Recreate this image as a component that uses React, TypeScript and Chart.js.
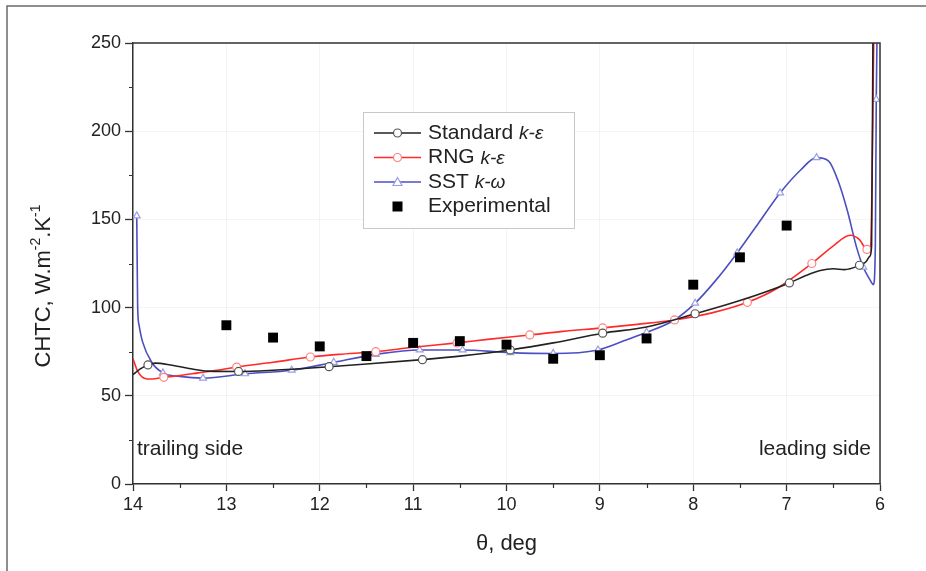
import React, { useEffect, useRef } from 'react';
import { Chart, registerables } from 'chart.js';

Chart.register(...registerables);

// ---- data ----
const standardTheta = [14, 13.93, 13.84, 13.76, 13.6, 13.4, 13.2, 12.87, 12.5, 11.9, 11.5, 10.9, 10.5, 9.96, 9.5, 8.97, 8.5, 7.98, 7.5, 6.97, 6.8, 6.64, 6.5, 6.38, 6.22, 6.15, 6.11, 6.09, 6.075];
const standardValues = [62, 65, 67.5, 68.5, 67.5, 65.5, 64, 63.8, 64.5, 66.5, 68, 70.5, 72.5, 76, 80, 85.5, 89, 96.5, 104, 114, 118, 121, 122, 121.5, 124, 126, 129, 135, 260];
const standardMarkers = [13.84, 12.87, 11.9, 10.9, 9.96, 8.97, 7.98, 6.97, 6.22];

const rngTheta = [14, 13.95, 13.88, 13.8, 13.67, 13.5, 13.3, 13.1, 12.89, 12.5, 12.1, 11.8, 11.4, 11, 10.53, 10.2, 9.75, 9.4, 8.97, 8.6, 8.2, 7.8, 7.42, 7.1, 6.73, 6.5, 6.32, 6.22, 6.14, 6.1, 6.065];
const rngValues = [71, 64, 60, 59.5, 60.5, 61.5, 63, 64.5, 66.3, 69, 72, 73.5, 75, 77.5, 80, 82, 84.5, 86.5, 88.5, 90.5, 93, 97, 103, 111, 125, 135, 141, 138.5, 133, 135, 260];
const rngMarkers = [13.67, 12.89, 12.1, 11.4, 10.53, 9.75, 8.97, 8.2, 7.42, 6.73, 6.14];

const sstTheta = [13.96, 13.955, 13.95, 13.935, 13.9, 13.8, 13.68, 13.5, 13.25, 12.8, 12.3, 11.85, 11.4, 10.93, 10.47, 9.96, 9.5, 9.02, 8.75, 8.5, 8.2, 7.98, 7.75, 7.53, 7.3, 7.07, 6.85, 6.68, 6.55, 6.45, 6.35, 6.25, 6.18, 6.11, 6.07, 6.05, 6.04, 6.03];
const sstValues = [152, 125, 100, 90, 81, 69, 63, 61, 60, 62.5, 64.5, 69, 73.5, 76, 76, 74.5, 74, 76, 81, 86, 93, 102.5, 116, 131, 148, 165, 178, 185, 183, 172, 155, 134, 123, 116, 113, 135, 218, 260];
const sstMarkers = [13.96, 13.68, 13.25, 12.8, 12.3, 11.85, 11.4, 10.93, 10.47, 9.96, 9.5, 9.02, 8.5, 7.98, 7.53, 7.07, 6.68, 6.18, 6.04];

const expTheta = [13, 12.5, 12, 11.5, 11, 10.5, 10, 9.5, 9, 8.5, 8, 7.5, 7];
const expValues = [90, 83, 78, 72.5, 80, 81, 79, 71, 73, 82.5, 113, 128.5, 146.5];

const xTicks = [14, 13, 12, 11, 10, 9, 8, 7, 6];
const yTicks = [0, 50, 100, 150, 200, 250];
const xMinorTicks = [13.5, 12.5, 11.5, 10.5, 9.5, 8.5, 7.5, 6.5];
const yMinorTicks = [25, 75, 125, 175, 225];

const FONT = '"Liberation Sans", Arial, Helvetica, sans-serif';

const BLACK = '#222222';
const RED = '#ff2a2a';
const BLUE = '#4b4fc0';

function pts(t: number[], v: number[]) {
  return t.map((x, i) => ({ x, y: v[i] }));
}
function radii(t: number[], m: number[], r: number) {
  return t.map((x) => (m.includes(x) ? r : 0));
}

const legendItems = [
  { name: 'Standard ', italic: 'k-ε', color: BLACK, marker: 'circle', edge: '#555' },
  { name: 'RNG ', italic: 'k-ε', color: RED, marker: 'circle', edge: '#ff8080' },
  { name: 'SST ', italic: 'k-ω', color: BLUE, marker: 'triangle', edge: '#9aa0e0' },
  { name: 'Experimental', italic: '', color: '#000', marker: 'square', edge: '#000' },
];

const decorPlugin = {
  id: 'decor',
  beforeDraw(chart: any) {
    const ctx = chart.ctx;
    ctx.save();
    ctx.fillStyle = '#fff';
    ctx.fillRect(0, 0, chart.width, chart.height);
    ctx.strokeStyle = '#6a6a6a';
    ctx.lineWidth = 1.5;
    ctx.beginPath();
    ctx.moveTo(7, chart.height);
    ctx.lineTo(7, 6);
    ctx.lineTo(chart.width, 6);
    ctx.stroke();
    ctx.restore();
  },
  afterDraw(chart: any) {
    const ctx = chart.ctx;
    const a = chart.chartArea;
    const xs = chart.scales.x;
    const ys = chart.scales.y;
    ctx.save();
    // frame top / right
    ctx.strokeStyle = '#333';
    ctx.lineWidth = 1.5;
    ctx.beginPath();
    ctx.moveTo(a.left, a.top);
    ctx.lineTo(a.right, a.top);
    ctx.lineTo(a.right, a.bottom);
    ctx.stroke();
    // minor ticks
    ctx.lineWidth = 1.2;
    ctx.beginPath();
    yMinorTicks.forEach((v) => {
      const y = Math.round(ys.getPixelForValue(v)) + 0.5;
      ctx.moveTo(a.left - 4, y);
      ctx.lineTo(a.left, y);
    });
    xMinorTicks.forEach((v) => {
      const x = Math.round(xs.getPixelForValue(v)) + 0.5;
      ctx.moveTo(x, a.bottom);
      ctx.lineTo(x, a.bottom + 4);
    });
    ctx.stroke();

    // side annotations
    ctx.fillStyle = '#222';
    ctx.font = `21px ${FONT}`;
    ctx.textBaseline = 'middle';
    const ay = ys.getPixelForValue(19.5);
    ctx.textAlign = 'left';
    ctx.fillText('trailing side', a.left + 4, ay);
    ctx.textAlign = 'right';
    ctx.fillText('leading side', a.right - 9, ay);

    // y axis title with superscripts
    const main = `22px ${FONT}`;
    const sup = `14px ${FONT}`;
    const parts: [string, string, number][] = [
      ['CHTC, W.m', main, 0],
      ['-2', sup, -8],
      ['.K', main, 0],
      ['-1', sup, -8],
    ];
    let total = 0;
    parts.forEach(([t, f]) => {
      ctx.font = f;
      total += ctx.measureText(t).width;
    });
    ctx.translate(44, 286);
    ctx.rotate(-Math.PI / 2);
    ctx.textAlign = 'left';
    ctx.textBaseline = 'middle';
    let px = -total / 2;
    parts.forEach(([t, f, dy]) => {
      ctx.font = f;
      ctx.fillText(t, px, dy);
      px += ctx.measureText(t).width;
    });
    ctx.setTransform(1, 0, 0, 1, 0, 0);

    // legend
    const lx = a.left + 230;
    const ly = a.top + 69;
    const lw = 211;
    const lh = 116;
    ctx.fillStyle = '#fff';
    ctx.fillRect(lx, ly, lw, lh);
    ctx.strokeStyle = '#c8c8c8';
    ctx.lineWidth = 1;
    ctx.strokeRect(lx + 0.5, ly + 0.5, lw, lh);
    legendItems.forEach((it, i) => {
      const cy = ly + 21 + i * 24.5;
      const x0 = lx + 11;
      const x1 = lx + 58;
      const cx = (x0 + x1) / 2;
      if (it.marker === 'square') {
        ctx.fillStyle = '#000';
        ctx.fillRect(cx - 5, cy - 5, 10, 10);
      } else {
        ctx.strokeStyle = it.color;
        ctx.lineWidth = 1.6;
        ctx.beginPath();
        ctx.moveTo(x0, cy);
        ctx.lineTo(x1, cy);
        ctx.stroke();
        ctx.fillStyle = '#fff';
        ctx.strokeStyle = it.edge;
        ctx.lineWidth = 1.2;
        ctx.beginPath();
        if (it.marker === 'circle') {
          ctx.arc(cx, cy, 4, 0, Math.PI * 2);
        } else {
          ctx.moveTo(cx, cy - 4.5);
          ctx.lineTo(cx + 4.5, cy + 3.5);
          ctx.lineTo(cx - 4.5, cy + 3.5);
          ctx.closePath();
        }
        ctx.fill();
        ctx.stroke();
      }
      ctx.fillStyle = '#222';
      ctx.textAlign = 'left';
      ctx.textBaseline = 'middle';
      ctx.font = `21px ${FONT}`;
      ctx.fillText(it.name, lx + 65, cy);
      if (it.italic) {
        const w = ctx.measureText(it.name).width;
        ctx.font = `italic 19px ${FONT}`;
        ctx.fillText(it.italic, lx + 65 + w, cy + 1);
      }
    });
    ctx.restore();
  },
};

export default function App() {
  const ref = useRef<HTMLCanvasElement | null>(null);
  useEffect(() => {
    if (!ref.current) return;
    const lineDs = (label: string, t: number[], v: number[], m: number[], color: string, edge: string, style: string) => ({
      label,
      data: pts(t, v),
      borderColor: color,
      borderWidth: 1.6,
      backgroundColor: '#ffffff',
      pointBackgroundColor: '#ffffff',
      pointBorderColor: edge,
      pointBorderWidth: 1.2,
      pointStyle: style,
      pointRadius: radii(t, m, 4),
      pointHoverRadius: radii(t, m, 4),
      tension: 0.4,
      cubicInterpolationMode: 'monotone',
      showLine: true,
      fill: false,
      order: 2,
    });
    const chart = new Chart(ref.current, {
      type: 'scatter',
      data: {
        datasets: [
          lineDs('Standard k-ε', standardTheta, standardValues, standardMarkers, BLACK, '#555', 'circle') as any,
          lineDs('RNG k-ε', rngTheta, rngValues, rngMarkers, RED, '#ff8080', 'circle') as any,
          lineDs('SST k-ω', sstTheta, sstValues, sstMarkers, BLUE, '#9aa0e0', 'triangle') as any,
          {
            label: 'Experimental',
            data: pts(expTheta, expValues),
            showLine: false,
            pointStyle: 'rect',
            pointRadius: 7,
            pointHoverRadius: 7,
            backgroundColor: '#000',
            borderColor: '#000',
            pointBorderWidth: 0,
            order: 1,
          } as any,
        ],
      },
      options: {
        animation: false,
        responsive: false,
        devicePixelRatio: 1,
        events: [],
        layout: { padding: { left: 0, top: 43, right: 46, bottom: 0 } },
        plugins: { legend: { display: false }, tooltip: { enabled: false } },
        scales: {
          x: {
            type: 'linear',
            reverse: true,
            min: 6,
            max: 14,
            afterFit: (s: any) => { s.height = 87; },
            afterBuildTicks: (s: any) => { s.ticks = xTicks.map((v) => ({ value: v })); },
            ticks: { stepSize: 1, color: '#222', font: { family: FONT, size: 18 }, padding: 3, maxRotation: 0 },
            grid: { color: 'rgba(0,0,0,0.045)', tickColor: '#333', tickLength: 7, tickWidth: 1.3 },
            border: { color: '#333', width: 1.5 },
            title: { display: true, text: 'θ, deg', color: '#222', font: { family: FONT, size: 22 }, padding: { top: 0, bottom: 14 } },
          },
          y: {
            type: 'linear',
            min: 0,
            max: 250,
            afterFit: (s: any) => { s.width = 133; },
            afterBuildTicks: (s: any) => { s.ticks = yTicks.map((v) => ({ value: v })); },
            ticks: { stepSize: 50, color: '#222', font: { family: FONT, size: 18 }, padding: 4 },
            grid: { color: 'rgba(0,0,0,0.045)', tickColor: '#333', tickLength: 8, tickWidth: 1.3 },
            border: { color: '#333', width: 1.5 },
          },
        },
      },
      plugins: [decorPlugin],
    });
    return () => chart.destroy();
  }, []);
  return (
    <canvas
      ref={ref}
      width={926}
      height={571}
      style={{ position: 'fixed', left: 0, top: 0, width: 926, height: 571, display: 'block' }}
    />
  );
}
